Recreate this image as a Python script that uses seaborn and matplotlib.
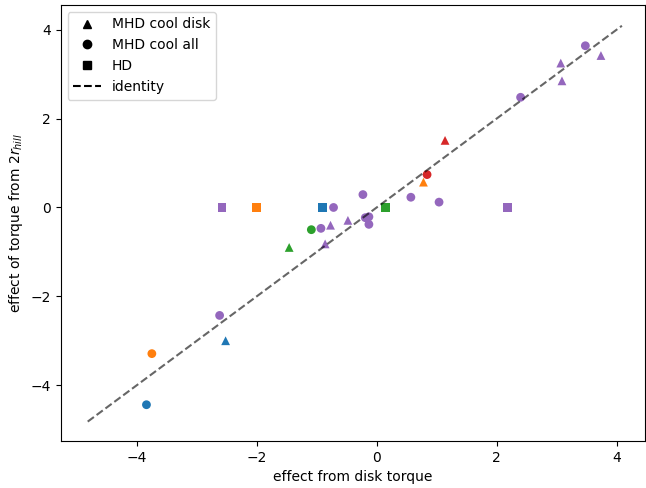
import numpy as np
import pandas as pd
import seaborn as sns
import matplotlib
matplotlib.use("Agg")
import matplotlib.pyplot as plt
from matplotlib.lines import Line2D

# HD runs (torque from 2 r_hill is zero)
hd_x = [-2.58, -2.00, -0.91, 0.15, 2.18]
hd_y = [0.0, 0.0, 0.0, 0.0, 0.0]
hd_run = ["e", "b", "a", "c", "e"]

# MHD cool disk
disk_x = [1.14, 0.78, -0.48, -0.77, -0.86, -1.46, -2.52, 3.07, 3.09, 3.74]
disk_y = [1.51, 0.57, -0.29, -0.40, -0.82, -0.90, -3.00, 3.25, 2.85, 3.42]
disk_run = ["d", "b", "e", "e", "e", "c", "a", "e", "e", "e"]

# MHD cool all
all_x = [0.84, -0.23, 0.57, 1.04, -0.72, -0.19, -0.13, -0.13, -0.93, -1.09,
         -2.62, -3.75, -3.84, 2.40, 3.48]
all_y = [0.74, 0.29, 0.23, 0.12, 0.00, -0.23, -0.21, -0.38, -0.47, -0.50,
         -2.43, -3.29, -4.44, 2.48, 3.64]
all_run = ["d", "e", "e", "e", "e", "e", "e", "e", "e", "c",
           "e", "b", "a", "e", "e"]

identity_range = [-4.82, 4.09]

runs = ["a", "b", "c", "d", "e"]
kinds = ["MHD cool disk", "MHD cool all", "HD"]
markers = {"MHD cool disk": "^", "MHD cool all": "o", "HD": "s"}

df = pd.concat([
    pd.DataFrame({"disk": disk_x, "hill": disk_y, "run": disk_run, "kind": "MHD cool disk"}),
    pd.DataFrame({"disk": all_x, "hill": all_y, "run": all_run, "kind": "MHD cool all"}),
    pd.DataFrame({"disk": hd_x, "hill": hd_y, "run": hd_run, "kind": "HD"}),
])

fig, ax = plt.subplots(figsize=(6.46, 4.88), dpi=100)
sns.scatterplot(data=df, x="disk", y="hill", hue="run", hue_order=runs,
                palette=sns.color_palette("tab10", 5), style="kind",
                style_order=kinds, markers=markers, s=40, linewidth=0,
                legend=False, ax=ax)
ax.plot(identity_range, identity_range, "k--", alpha=0.6, lw=1.5)

handles = [Line2D([], [], marker=markers[k], color="k", ls="none", label=k) for k in kinds]
handles.append(Line2D([], [], color="k", ls="--", label="identity"))
ax.legend(handles=handles, loc="upper left")

ax.set_xlim(-5.27, 4.47)
ax.set_ylim(-5.26, 4.56)
ax.set_xlabel("effect from disk torque")
ax.set_ylabel(r"effect of torque from $2r_{hill}$")
fig.subplots_adjust(left=0.094, right=0.998, top=0.99, bottom=0.096)
plt.savefig("out.png")
